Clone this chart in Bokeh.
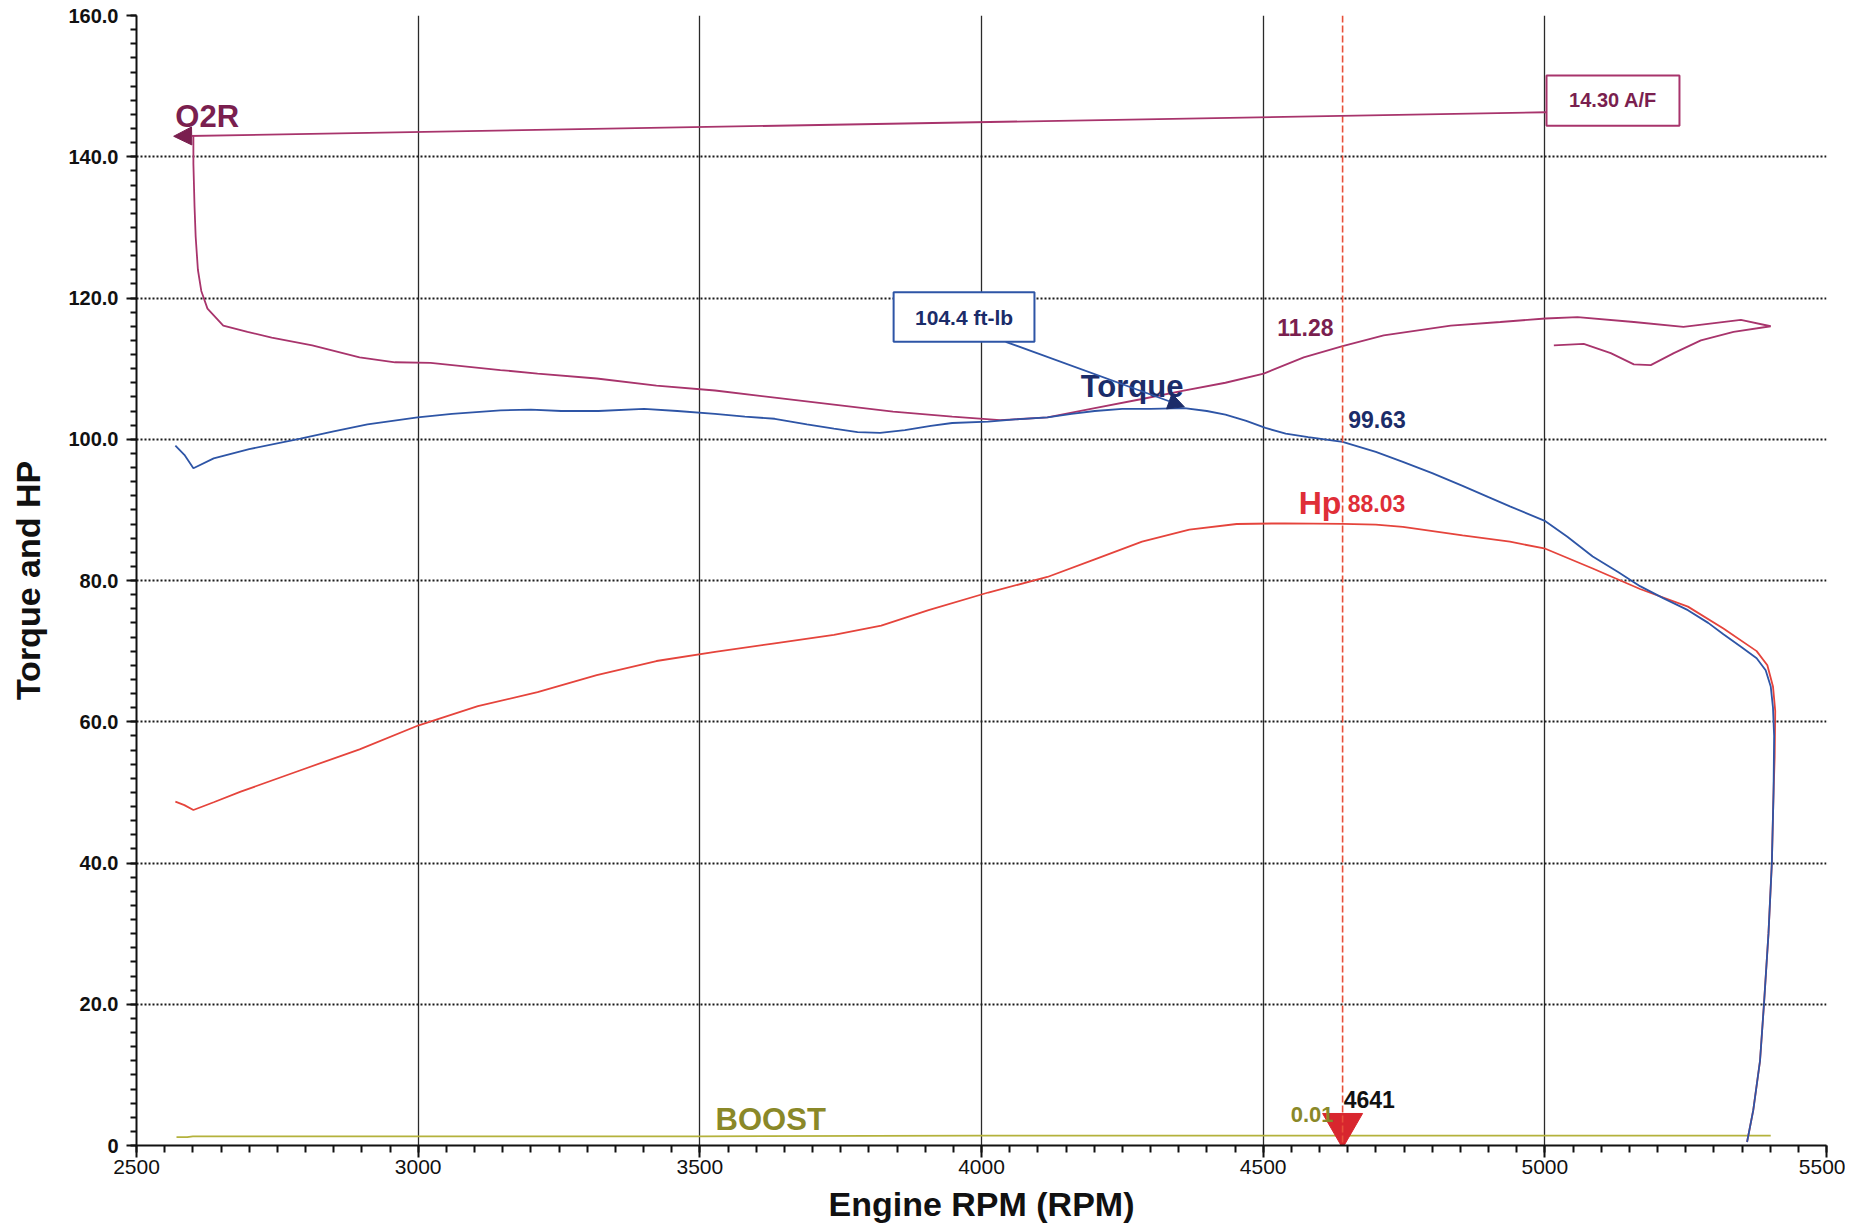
import numpy as np
from bokeh.plotting import figure
from bokeh.models import (Range1d, SingleIntervalTicker, Arrow, NormalHead, Span,
                          Label, BoxAnnotation)
from bokeh.core.properties import value
from bokeh.embed import file_html
from bokeh.resources import INLINE

# ---------------- data (read from the dyno sheet) ----------------
torque_rpm = [2569, 2585, 2601, 2637, 2700, 2791, 2850, 2910, 2999, 3060, 3146, 3200,
              3254, 3320, 3401, 3460, 3527, 3580, 3633, 3690, 3738, 3780, 3820, 3864,
              3910, 3948, 4012, 4060, 4117, 4160, 4201, 4250, 4300, 4360, 4400, 4433,
              4470, 4504, 4540, 4580, 4641, 4700, 4748, 4800, 4854, 4900, 4938, 5001,
              5040, 5085, 5130, 5169, 5210, 5254, 5290, 5317, 5350, 5376, 5392, 5401,
              5405, 5407, 5406, 5403, 5397, 5389, 5382, 5370, 5359]
torque_val = [99.1, 97.8, 95.9, 97.3, 98.6, 100.1, 101.1, 102.1, 103.1, 103.6, 104.1, 104.2,
              104.0, 104.0, 104.3, 104.0, 103.6, 103.2, 102.9, 102.1, 101.5, 101.0, 100.9, 101.3,
              101.9, 102.3, 102.5, 102.8, 103.1, 103.6, 104.0, 104.3, 104.3, 104.4, 104.0, 103.5,
              102.6, 101.6, 100.8, 100.3, 99.63, 98.2, 96.8, 95.2, 93.4, 91.8, 90.5, 88.4,
              86.2, 83.4, 81.2, 79.2, 77.5, 75.8, 74.0, 72.4, 70.5, 69.0, 67.3, 65.0,
              62.0, 58.0, 50.0, 40.0, 30.0, 20.0, 12.0, 5.0, 0.5]

hp_rpm = [2569, 2585, 2601, 2637, 2685, 2790, 2896, 3001, 3106, 3212, 3317, 3423, 3527,
          3633, 3738, 3822, 3906, 4012, 4117, 4201, 4285, 4369, 4453, 4538, 4641, 4700,
          4748, 4854, 4938, 5001, 5085, 5169, 5254, 5317, 5376, 5395, 5405, 5409, 5408,
          5406, 5403, 5397, 5389, 5382, 5370, 5359]
hp_val = [48.7, 48.2, 47.5, 48.6, 50.1, 53.1, 56.1, 59.5, 62.2, 64.2, 66.6, 68.6, 69.9,
          71.1, 72.3, 73.6, 75.8, 78.3, 80.5, 83.0, 85.5, 87.2, 88.0, 88.1, 88.03, 87.9,
          87.6, 86.4, 85.5, 84.5, 81.7, 78.8, 76.3, 73.2, 70.0, 68.0, 65.0, 61.5, 55.0,
          50.0, 40.0, 30.0, 20.0, 12.0, 5.0, 0.5]

# O2R (air/fuel ratio x10, plotted on the same scale)
o2r_rpm = [2601, 2601, 2603, 2605, 2609, 2615, 2626, 2654, 2697, 2740, 2812, 2896, 2959,
           3022, 3146, 3212, 3317, 3423, 3527, 3633, 3738, 3843, 3948, 4033, 4117, 4201,
           4285, 4359, 4433, 4501, 4572, 4641, 4714, 4833, 4921, 5001, 5058, 5158, 5246,
           5348, 5401, 5335, 5277, 5229, 5188, 5158, 5117, 5069, 5016]
o2r_val = [143.0, 139.0, 133.0, 128.7, 124.0, 121.0, 118.5, 116.1, 115.2, 114.4, 113.3, 111.6,
           110.9, 110.8, 109.8, 109.3, 108.6, 107.6, 106.9, 105.9, 104.9, 103.9, 103.2, 102.7,
           103.1, 104.4, 105.7, 106.9, 108.0, 109.3, 111.6, 113.2, 114.7, 116.1, 116.6, 117.1,
           117.3, 116.6, 115.9, 116.9, 116.0, 115.2, 114.0, 112.2, 110.5, 110.6, 112.2, 113.5,
           113.3]

boost_rpm = [2571, 2590, 2600, 3000, 3500, 4000, 4500, 5000, 5401]
boost_val = [1.2, 1.2, 1.3, 1.3, 1.3, 1.4, 1.4, 1.4, 1.4]

y_ticks = [0, 20, 40, 60, 80, 100, 120, 140, 160]
y_tick_labels = ["0", "20.0", "40.0", "60.0", "80.0", "100.0", "120.0", "140.0", "160.0"]

cursor_rpm = 4641
peak_torque_rpm = 4360
peak_torque = 104.4
start_af = 14.30

# ---------------- colours ----------------
C_TQ = "#2E55A6"
C_TQ_TXT = "#1B2C69"
C_HP = "#E5443C"
C_HP_TXT = "#DF2E37"
C_O2 = "#A8346C"
C_O2_TXT = "#7A1F4F"
C_BO = "#B4B23C"
C_BO_TXT = "#8A8828"
FONT = "Liberation Sans"

p = figure(width=1845, height=1225, x_range=Range1d(2500, 5500), y_range=Range1d(0, 160),
           output_backend="svg", toolbar_location=None,
           min_border_left=136, min_border_right=19, min_border_top=15, min_border_bottom=70)
p.background_fill_color = "white"
p.border_fill_color = "white"
p.outline_line_color = None

# axes
p.xaxis.ticker = SingleIntervalTicker(interval=500, num_minor_ticks=10)
p.yaxis.ticker = SingleIntervalTicker(interval=20, num_minor_ticks=10)
p.yaxis.major_label_overrides = {t: s for t, s in zip(y_ticks, y_tick_labels)}

for ax in (p.xaxis[0], p.yaxis[0]):
    ax.axis_line_color = "#111111"
    ax.axis_line_width = 2
    ax.major_tick_line_color = "#111111"
    ax.minor_tick_line_color = "#111111"
    ax.major_tick_line_width = 2
    ax.minor_tick_line_width = 2
    ax.major_tick_in = 0
    ax.minor_tick_in = 0
    ax.major_label_text_font = FONT
    ax.major_label_text_color = "#111111"
    ax.axis_label_text_font = FONT
    ax.axis_label_text_font_style = "bold"
    ax.axis_label_text_color = "#111111"

p.xaxis.major_tick_out = 12
p.xaxis.minor_tick_out = 7
p.xaxis.major_label_standoff = 2
p.xaxis.major_label_text_font_size = "21px"
p.xaxis.axis_label = "Engine RPM (RPM)"
p.xaxis.axis_label_text_font_size = "34px"
p.xaxis.axis_label_standoff = 8

p.yaxis.major_tick_out = 10
p.yaxis.minor_tick_out = 6
p.yaxis.major_label_standoff = 8
p.yaxis.major_label_text_font_size = "20px"
p.yaxis.major_label_text_font_style = "bold"
p.yaxis.axis_label = "Torque and HP"
p.yaxis.axis_label_text_font_size = "34px"
p.yaxis.axis_label_standoff = 18

# grids
p.ygrid.grid_line_color = "#1a1a1a"
p.ygrid.grid_line_dash = "2 2"
p.ygrid.grid_line_width = 2
p.xgrid.grid_line_color = "#2a2a2a"
p.xgrid.grid_line_width = 1.3

# cursor line
p.add_layout(Span(location=cursor_rpm, dimension="height", line_color="#E8503A",
                  line_dash="7 3", line_width=1.6))

# curves
p.line(boost_rpm, boost_val, line_color=C_BO, line_width=1.8)
p.line(o2r_rpm, o2r_val, line_color=C_O2, line_width=1.8)
p.line(hp_rpm, hp_val, line_color=C_HP, line_width=1.8)
p.line(torque_rpm, torque_val, line_color=C_TQ, line_width=1.8)

# cursor marker
p.scatter([cursor_rpm], [2.9], marker="inverted_triangle", size=40,
          fill_color="#D8262E", line_color="#D8262E")

# annotation boxes and leaders
p.add_layout(Arrow(end=NormalHead(size=18, fill_color=C_O2_TXT, line_color=C_O2_TXT),
                   x_start=5003, y_start=146.3, x_end=2566, y_end=142.9,
                   line_color=C_O2, line_width=1.8))
p.add_layout(BoxAnnotation(left=5003, right=5239, bottom=144.4, top=151.5,
                           fill_color="white", fill_alpha=1, line_color=C_O2,
                           line_alpha=1, line_width=2))
p.add_layout(Label(x=5121, y=148.0, text=f"{start_af:.2f} A/F", text_align="center",
                   text_baseline="middle", text_font=FONT, text_font_style="bold",
                   text_font_size="20px", text_color=C_O2_TXT))

p.add_layout(Arrow(end=NormalHead(size=16, fill_color=C_TQ_TXT, line_color=C_TQ_TXT),
                   x_start=4043, y_start=113.8, x_end=peak_torque_rpm, y_end=peak_torque + 0.2,
                   line_color=C_TQ, line_width=1.8))
p.add_layout(BoxAnnotation(left=3844, right=4094, bottom=113.8, top=120.8,
                           fill_color="white", fill_alpha=1, line_color=C_TQ,
                           line_alpha=1, line_width=2))
p.add_layout(Label(x=3969, y=117.3, text=f"{peak_torque:.1f} ft-lb", text_align="center",
                   text_baseline="middle", text_font=FONT, text_font_style="bold",
                   text_font_size="21px", text_color=C_TQ_TXT))

# curve labels
def txt(x, y, s, size, color):
    p.text(x=[x], y=[y], text=[s], text_font=value(FONT), text_font_style="bold",
           text_font_size=size, text_color=color, text_align="left",
           text_baseline="alphabetic")

txt(2569, 145.7, "O2R", "31px", C_O2_TXT)
txt(4176, 107.5, "Torque", "31px", C_TQ_TXT)
txt(4563, 91.0, "Hp", "32px", C_HP_TXT)
txt(4650, 90.95, "88.03", "23px", C_HP_TXT)
txt(4651, 102.85, "99.63", "23px", C_TQ_TXT)
txt(4525, 115.85, "11.28", "23px", C_O2_TXT)
txt(3528, 3.75, "BOOST", "31px", C_BO_TXT)
txt(4549, 4.35, "0.01", "22px", C_BO_TXT)
txt(4643, 6.55, "4641", "23px", "#111111")

open("out.html", "w").write(file_html(p, INLINE))
